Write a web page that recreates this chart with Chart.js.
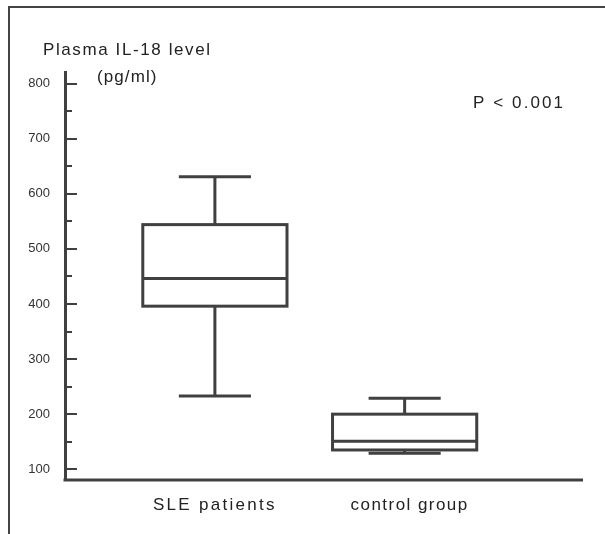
<!DOCTYPE html>
<html>
<head>
<meta charset="utf-8">
<script src="https://cdn.jsdelivr.net/npm/chart.js@4/dist/chart.umd.min.js"></script>
<style>
  body { margin: 0; background: #fff; }
  #wrap { position: relative; width: 605px; height: 534px; }
  #frame { position: absolute; left: 8px; top: 6px; right: 0; bottom: 0; border-top: 2px solid #444; border-left: 2px solid #444; pointer-events: none; }
  canvas { position: absolute; left: 0; top: 0; }
</style>
</head>
<body>
<div id="wrap">
  <canvas id="chart_" width="605" height="534"></canvas>
  <div id="frame"></div>
</div>
<script>
// group data (pg/ml)
const groups = ['SLE patients', 'control group'];
const groupPos = [1, 2];
const whiskerLow = [233, 129];
const q1 = [396, 135];
const median = [446, 151];
const q3 = [544, 200];
const whiskerHigh = [631, 229];

const yTicks = [100, 150, 200, 250, 300, 350, 400, 450, 500, 550, 600, 650, 700, 750, 800];

const LINE = '#404040';
const TEXT = '#222';
const BOX_HALF = 0.38;   // in x units
const CAP_HALF = 0.19;
const labelSpacing = [2.3, 1.45];
const labelShift = [0, 5];

function drawText(ctx, txt, x, y, size, spacing) {
  ctx.save();
  ctx.font = size + 'px "Liberation Sans", Arial, sans-serif';
  ctx.letterSpacing = spacing + 'px';
  ctx.fillStyle = TEXT;
  ctx.textBaseline = 'middle';
  ctx.textAlign = 'left';
  ctx.fillText(txt, x, y);
  ctx.restore();
}

const boxPlugin = {
  id: 'boxPlugin',
  afterDatasetsDraw(chart) {
    const ctx = chart.ctx;
    const xs = chart.scales.x;
    const ys = chart.scales.y;
    const area = chart.chartArea;

    ctx.save();
    ctx.strokeStyle = LINE;
    ctx.lineCap = 'butt';

    // y tick marks pointing into the plot
    ctx.lineWidth = 2;
    yTicks.forEach(v => {
      const py = Math.round(ys.getPixelForValue(v));
      const len = v % 100 === 0 ? 12 : 7;
      ctx.beginPath();
      ctx.moveTo(area.left, py);
      ctx.lineTo(area.left + len, py);
      ctx.stroke();
    });

    // x axis line
    ctx.lineWidth = 3;
    ctx.beginPath();
    ctx.moveTo(area.left - 1.5, area.bottom);
    ctx.lineTo(area.right, area.bottom);
    ctx.stroke();

    // boxes
    groups.forEach((g, i) => {
      const cx = xs.getPixelForValue(groupPos[i]);
      const bl = xs.getPixelForValue(groupPos[i] - BOX_HALF);
      const br = xs.getPixelForValue(groupPos[i] + BOX_HALF);
      const cl = xs.getPixelForValue(groupPos[i] - CAP_HALF);
      const cr = xs.getPixelForValue(groupPos[i] + CAP_HALF);
      const yLo = ys.getPixelForValue(whiskerLow[i]);
      const yQ1 = ys.getPixelForValue(q1[i]);
      const yMed = ys.getPixelForValue(median[i]);
      const yQ3 = ys.getPixelForValue(q3[i]);
      const yHi = ys.getPixelForValue(whiskerHigh[i]);

      ctx.lineWidth = 3;
      ctx.strokeRect(bl, yQ3, br - bl, yQ1 - yQ3);
      ctx.beginPath();
      ctx.moveTo(bl, yMed); ctx.lineTo(br, yMed);
      ctx.moveTo(cx, yQ3); ctx.lineTo(cx, yHi);
      ctx.moveTo(cx, yQ1); ctx.lineTo(cx, yLo);
      ctx.moveTo(cl, yHi); ctx.lineTo(cr, yHi);
      ctx.moveTo(cl, yLo); ctx.lineTo(cr, yLo);
      ctx.stroke();

      // category label under the axis
      ctx.save();
      ctx.font = '17px "Liberation Sans", Arial, sans-serif';
      ctx.letterSpacing = labelSpacing[i] + 'px';
      const w = ctx.measureText(g).width;
      ctx.restore();
      drawText(ctx, g, cx - w / 2 + labelShift[i], area.bottom + 25, 17, labelSpacing[i]);
    });
    ctx.restore();

    drawText(ctx, 'Plasma IL-18 level', 43, 50, 17, 1.6);
    drawText(ctx, '(pg/ml)', 97, 77, 17, 1.1);
    drawText(ctx, 'P < 0.001', 473, 103, 17, 2.1);
  }
};

const config = {
  type: 'scatter',
  data: {
    datasets: [{
      data: groupPos.map((p, i) => ({ x: p, y: median[i] })),
      pointRadius: 0
    }]
  },
  options: {
    responsive: false,
    animation: false,
    layout: { padding: { left: 0, top: 72, right: 22, bottom: 54 } },
    plugins: { legend: { display: false }, tooltip: { enabled: false } },
    scales: {
      x: { type: 'linear', min: 0.21, max: 2.94, display: false },
      y: {
        type: 'linear',
        min: 80.5,
        max: 821,
        afterBuildTicks: (scale) => { scale.ticks = yTicks.map(v => ({ value: v })); },
        afterFit: (scale) => { scale.width = 65; },
        grid: { display: false },
        border: { display: true, width: 3, color: LINE },
        ticks: {
          padding: 7,
          color: '#333',
          font: { family: '"Liberation Sans", Arial, sans-serif', size: 13 },
          callback: (v) => (v % 100 === 0 ? v : '')
        }
      }
    }
  },
  plugins: [boxPlugin]
};

new Chart(document.getElementById('chart_'), config);
</script>
</body>
</html>
